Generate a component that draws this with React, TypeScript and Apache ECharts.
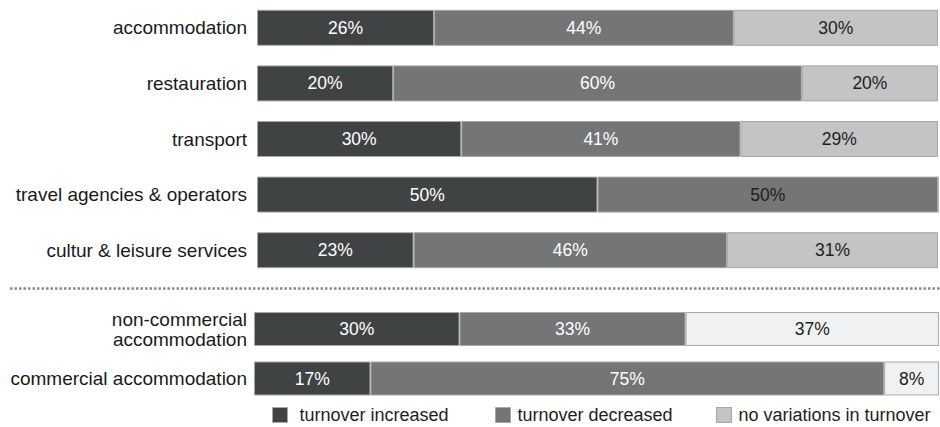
import React, { useEffect, useRef } from "react";
import * as echarts from "echarts";

const topCategories = [
  "accommodation",
  "restauration",
  "transport",
  "travel agencies & operators",
  "cultur & leisure services",
];
const topIncreased = [26, 20, 30, 50, 23];
const topDecreased = [44, 60, 41, 50, 46];
const topNoVariation = [30, 20, 29, 0, 31];

const bottomCategories = ["non-commercial\naccommodation", "commercial accommodation"];
const bottomIncreased = [30, 17];
const bottomDecreased = [33, 75];
const bottomNoVariation = [37, 8];

const seriesNames = ["turnover increased", "turnover decreased", "no variations in turnover"];

const DARK = "#404344";
const MID = "#747577";
const LIGHT = "#c3c4c3";
const LIGHTEST = "#f0f1f2";
const BORDER = "#a6a7a8";
const FONT = "'Liberation Sans', Arial, Helvetica, sans-serif";

export default function App() {
  const ref = useRef<HTMLDivElement>(null);

  useEffect(() => {
    if (!ref.current) return;
    const chart = echarts.init(ref.current, undefined, { renderer: "svg" });

    const labelBase = {
      show: true,
      position: "inside" as const,
      fontSize: 17.5,
      fontFamily: FONT,
      formatter: (p: any) => (p.value > 0 ? p.value + "%" : ""),
    };

    const mk = (
      name: string,
      values: number[],
      color: string,
      labelColor: string,
      grid: number,
      barWidth: number,
      overrideDark: number[] = []
    ) => ({
      name,
      type: "bar",
      stack: "s" + grid,
      xAxisIndex: grid,
      yAxisIndex: grid,
      barWidth,
      itemStyle: { color, borderColor: BORDER, borderWidth: 1 },
      label: { ...labelBase, color: labelColor },
      data: values.map((v, i) =>
        overrideDark.includes(i) ? { value: v, label: { color: "#1e1e1e" } } : v
      ),
    });

    const option: any = {
      animation: false,
      textStyle: { fontFamily: FONT },
      grid: [
        { left: 257, right: 2, top: 0, height: 278 },
        { left: 254, right: 1, top: 304.25, height: 99 },
      ],
      xAxis: [
        { type: "value", gridIndex: 0, min: 0, max: 100, show: false },
        { type: "value", gridIndex: 1, min: 0, max: 100, show: false },
      ],
      yAxis: [
        {
          type: "category",
          gridIndex: 0,
          inverse: true,
          data: topCategories,
          axisLine: { show: false },
          axisTick: { show: false },
          axisLabel: { color: "#1a1a1a", fontSize: 19, fontFamily: FONT, margin: 10 },
        },
        {
          type: "category",
          gridIndex: 1,
          inverse: true,
          data: bottomCategories,
          axisLine: { show: false },
          axisTick: { show: false },
          axisLabel: {
            color: "#1a1a1a",
            fontSize: 19,
            fontFamily: FONT,
            margin: 7,
            lineHeight: 20,
            align: "right",
          },
        },
      ],
      legend: seriesNames.map((n, i) => ({
        data: [n],
        left: [272, 495, 716][i],
        top: 406,
        padding: 0,
        icon: "rect",
        itemWidth: 15,
        itemHeight: 15,
        itemGap: 0,
        selectedMode: false,
        itemStyle: { borderColor: BORDER, borderWidth: 1 },
        textStyle: {
          fontSize: 18,
          lineHeight: 18,
          color: "#1e1e1e",
          fontFamily: FONT,
          padding: [0, 0, 0, i === 0 ? 7 : 2],
        },
      })),
      graphic: [
        {
          type: "line",
          shape: { x1: 10, y1: 288.5, x2: 940, y2: 288.5 },
          style: { stroke: "#8a8a8a", lineWidth: 2.5, lineDash: [2.5, 2] },
          silent: true,
        },
      ],
      series: [
        mk(seriesNames[0], topIncreased, DARK, "#ffffff", 0, 36),
        mk(seriesNames[1], topDecreased, MID, "#ffffff", 0, 36, [3]),
        mk(seriesNames[2], topNoVariation, LIGHT, "#1e1e1e", 0, 36),
        mk(seriesNames[0], bottomIncreased, DARK, "#ffffff", 1, 34),
        mk(seriesNames[1], bottomDecreased, MID, "#ffffff", 1, 34),
        mk(seriesNames[2], bottomNoVariation, LIGHTEST, "#1e1e1e", 1, 34),
      ],
    };

    chart.setOption(option);
    return () => chart.dispose();
  }, []);

  return (
    <div
      ref={ref}
      style={{ position: "fixed", left: 0, top: 0, width: 940, height: 427, background: "#fff" }}
    />
  );
}
